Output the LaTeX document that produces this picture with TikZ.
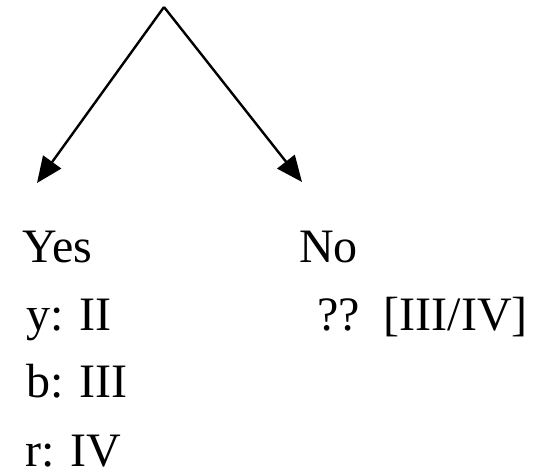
\documentclass[tikz,border=0pt]{standalone}
\usepackage{fontspec}
\setmainfont{Liberation Serif}
\usetikzlibrary{arrows.meta,positioning}

\begin{document}
\begin{tikzpicture}[x=1pt,y=-1pt, >={Triangle[length=26pt,width=22pt]},
    branch/.style={->,line width=2.4pt},
    answer/.style={anchor=base west,inner sep=0pt,font=\fontsize{48}{58}\selectfont}]
        \useasboundingbox (0,0) rectangle (540,472);
        \coordinate (top)    at (164,7);
        \coordinate (yestip) at (37,183);
        \coordinate (notip)  at (302,182);

        \node[answer] (yes)  at (22,262)  {Yes};
        \node[answer] (no)   at (299,262) {No};
        \node[answer] (y)    at (26,330)  {y: II};
        \node[answer] (q)    at (317,330) {??\ \ [III/IV]};
        \node[answer] (b)    at (26,397)  {b: III};
        \node[answer] (r)    at (25,466)  {r: IV};

        \draw[branch] (top) -- (yestip);
        \draw[branch] (top) -- (notip);
\end{tikzpicture}
\end{document}
